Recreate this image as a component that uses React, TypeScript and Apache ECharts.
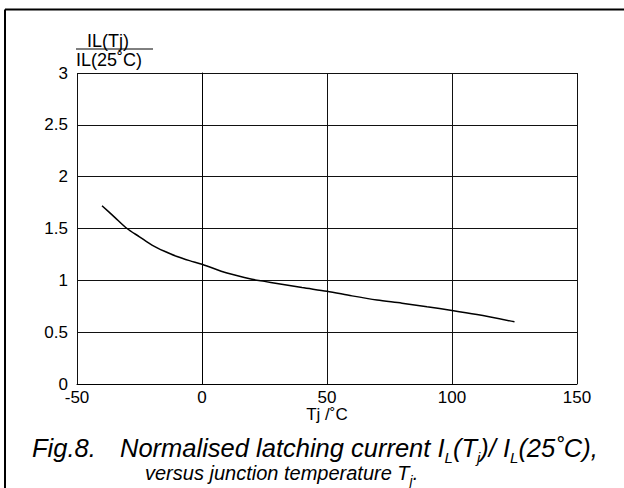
import React, { useEffect, useRef } from "react";
import * as echarts from "echarts";

const tempC = [-40, -35, -30, -25, -20, -15, -10, -5, 0, 10, 20, 25, 30, 40, 50, 60, 70, 80, 90, 100, 110, 125];
const ratio = [1.72, 1.61, 1.5, 1.42, 1.34, 1.28, 1.23, 1.19, 1.155, 1.07, 1.01, 0.99, 0.97, 0.93, 0.895, 0.85, 0.81, 0.78, 0.745, 0.71, 0.67, 0.6];
const xTicks = { min: -50, max: 150, interval: 50 };
const yTicks = { min: 0, max: 3, interval: 0.5 };
const xName = "Tj /˚C";
const yNameTop = "IL(Tj)";
const yNameBottom = "IL(25˚C)";

const FONT = "'Liberation Sans', Arial, Helvetica, sans-serif";

export default function App() {
  const ref = useRef<HTMLDivElement>(null);
  useEffect(() => {
    if (!ref.current) return;
    const chart = echarts.init(ref.current, undefined, { renderer: "svg" });
    const data = tempC.map((t, i) => [t, ratio[i]]);
    chart.setOption({
      animation: false,
      backgroundColor: "#fff",
      textStyle: { fontFamily: FONT },
      grid: { left: 77, top: 73, width: 500, height: 311, containLabel: false },
      xAxis: {
        type: "value",
        min: xTicks.min,
        max: xTicks.max,
        interval: xTicks.interval,
        axisLine: { show: true, lineStyle: { color: "#000", width: 1 } },
        axisTick: { show: false },
        axisLabel: { color: "#000", fontSize: 17, fontFamily: FONT, margin: 7, lineHeight: 13 },
        splitLine: { show: true, lineStyle: { color: "#111", width: 1 } },
      },
      yAxis: {
        type: "value",
        min: yTicks.min,
        max: yTicks.max,
        interval: yTicks.interval,
        axisLine: { show: true, lineStyle: { color: "#000", width: 1 } },
        axisTick: { show: false },
        axisLabel: { color: "#000", fontSize: 17, fontFamily: FONT, margin: 9, lineHeight: 13 },
        splitLine: { show: true, lineStyle: { color: "#111", width: 1 } },
      },
      series: [
        {
          type: "line",
          data,
          showSymbol: false,
          smooth: 0.3,
          lineStyle: { color: "#000", width: 1.5 },
          silent: true,
        },
      ],
      graphic: [
        { type: "line", shape: { x1: 5, y1: 9.5, x2: 640, y2: 9.5 }, style: { stroke: "#000", lineWidth: 2 } },
        { type: "line", shape: { x1: 5, y1: 9.5, x2: 5, y2: 500 }, style: { stroke: "#000", lineWidth: 2 } },
        {
          type: "text",
          x: 327,
          y: 414.5,
          style: { text: xName, fill: "#000", font: `17px ${FONT}`, lineHeight: 13, align: "center", verticalAlign: "middle" },
        },
        {
          type: "text",
          x: 108,
          y: 41,
          style: { text: yNameTop, fill: "#000", font: `18px ${FONT}`, align: "center", verticalAlign: "middle" },
        },
        { type: "line", shape: { x1: 76, y1: 49, x2: 153, y2: 49 }, style: { stroke: "#000", lineWidth: 1 } },
        {
          type: "text",
          x: 76,
          y: 60,
          style: { text: yNameBottom, fill: "#000", font: `18px ${FONT}`, align: "left", verticalAlign: "middle" },
        },
        {
          type: "text",
          x: 32,
          y: 447.5,
          style: { text: "Fig.8.", fill: "#000", font: `italic 25.5px ${FONT}`, align: "left", verticalAlign: "middle" },
        },
        {
          type: "text",
          x: 120,
          y: 448.5,
          style: {
            text: "{n|Normalised latching current I}{s|L}{n|(T}{s|j}{n|)/ I}{s|L}{n|(25˚C),}",
            fill: "#000",
            align: "left",
            verticalAlign: "middle",
            rich: {
              n: { fontSize: 25.5, fontStyle: "italic", fontFamily: FONT, lineHeight: 28, verticalAlign: "top", fill: "#000" },
              s: { fontSize: 15, fontStyle: "italic", fontFamily: FONT, lineHeight: 15, padding: [15, 0, 0, 0], verticalAlign: "top", fill: "#000" },
            },
          },
        },
        {
          type: "text",
          x: 145,
          y: 475,
          style: {
            text: "{n|versus junction temperature T}{s|j}{n|.}",
            fill: "#000",
            align: "left",
            verticalAlign: "middle",
            rich: {
              n: { fontSize: 20, fontStyle: "italic", fontFamily: FONT, lineHeight: 24, verticalAlign: "top", fill: "#000" },
              s: { fontSize: 14, fontStyle: "italic", fontFamily: FONT, lineHeight: 14, padding: [11, 0, 0, 0], verticalAlign: "top", fill: "#000" },
            },
          },
        },
      ],
    });
    return () => chart.dispose();
  }, []);
  return (
    <div
      ref={ref}
      style={{ position: "fixed", left: 0, top: 0, width: 624, height: 488, background: "#fff" }}
    />
  );
}
